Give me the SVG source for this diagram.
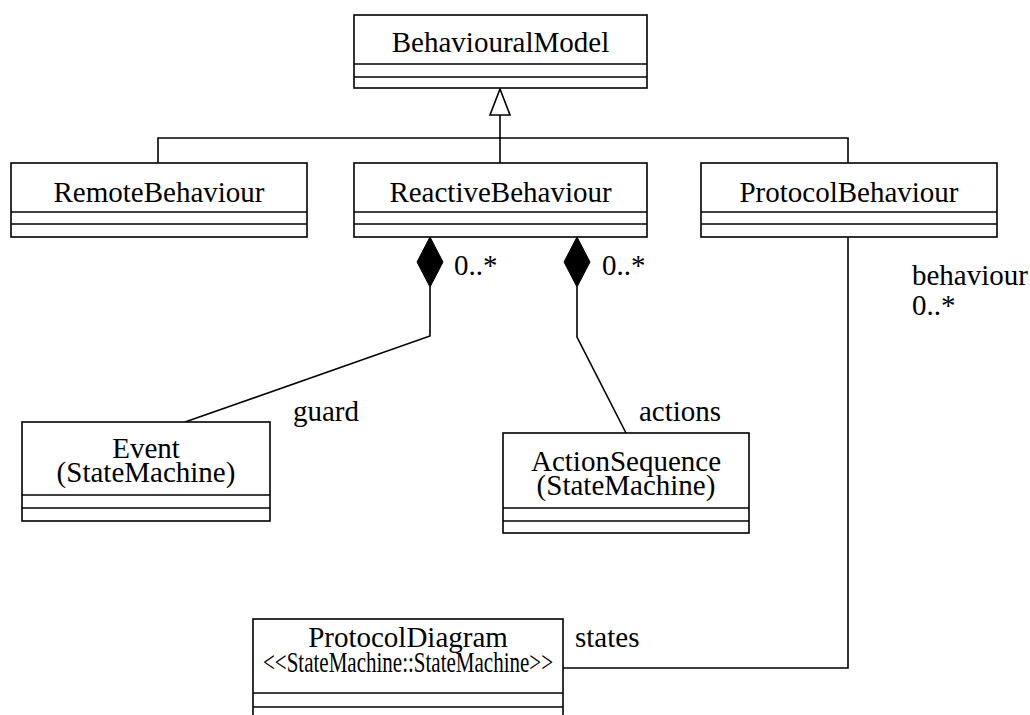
<svg xmlns="http://www.w3.org/2000/svg" width="1030" height="715" viewBox="0 0 1030 715">
<style>
.box{fill:#fff;stroke:#000;stroke-width:1.6}
.sep{stroke:#000;stroke-width:1.6}
.t{font-family:"Liberation Serif","Times New Roman",serif;font-size:29px;fill:#000}
.c{text-anchor:middle}
.ln{fill:none;stroke:#000;stroke-width:1.6}
.dia{fill:#000;stroke:#000;stroke-width:1}
.tri{fill:#fff;stroke:#000;stroke-width:1.6}
</style>
<rect width="1030" height="715" fill="#fff"/>
<g id="connectors">
<polyline class="ln" points="158,163 158,138 848,138 848,163"/>
<line class="ln" x1="500" y1="115" x2="500" y2="163"/>
<polygon class="tri" points="500,89 510,115 490,115"/>
<polyline class="ln" points="430,287 430,336 185,422"/>
<polygon class="dia" points="430,237 443,262 430,287 417,262"/>
<polyline class="ln" points="577,287 577,337 626,433"/>
<polygon class="dia" points="577,237 590,262 577,287 564,262"/>
<polyline class="ln" points="848,237 848,668 563,668"/>
<text class="t" x="454" y="275">0..*</text>
<text class="t" x="602" y="275">0..*</text>
<text class="t" x="293" y="421">guard</text>
<text class="t" x="639" y="421">actions</text>
<text class="t" x="912" y="285">behaviour</text>
<text class="t" x="912" y="315">0..*</text>
<text class="t" x="575" y="647">states</text>
</g>
<g id="BehaviouralModel">
<rect class="box" x="354" y="15" width="293" height="73"/>
<line class="sep" x1="354" y1="64" x2="647" y2="64"/>
<line class="sep" x1="354" y1="77" x2="647" y2="77"/>
<text class="t c" x="500.5" y="52">BehaviouralModel</text>
</g>
<g id="RemoteBehaviour">
<rect class="box" x="11" y="163" width="296" height="74"/>
<line class="sep" x1="11" y1="212" x2="307" y2="212"/>
<line class="sep" x1="11" y1="224" x2="307" y2="224"/>
<text class="t c" x="159" y="202">RemoteBehaviour</text>
</g>
<g id="ReactiveBehaviour">
<rect class="box" x="354" y="163" width="293" height="74"/>
<line class="sep" x1="354" y1="212" x2="647" y2="212"/>
<line class="sep" x1="354" y1="224" x2="647" y2="224"/>
<text class="t c" x="500.5" y="202">ReactiveBehaviour</text>
</g>
<g id="ProtocolBehaviour">
<rect class="box" x="701" y="163" width="296" height="74"/>
<line class="sep" x1="701" y1="212" x2="997" y2="212"/>
<line class="sep" x1="701" y1="224" x2="997" y2="224"/>
<text class="t c" x="849" y="202">ProtocolBehaviour</text>
</g>
<g id="Event">
<rect class="box" x="22" y="422" width="248" height="99"/>
<line class="sep" x1="22" y1="495" x2="270" y2="495"/>
<line class="sep" x1="22" y1="508" x2="270" y2="508"/>
<text class="t c" x="146" y="458">Event</text>
<text class="t c" x="146" y="482">(StateMachine)</text>
</g>
<g id="ActionSequence">
<rect class="box" x="503" y="433" width="246" height="100"/>
<line class="sep" x1="503" y1="508" x2="749" y2="508"/>
<line class="sep" x1="503" y1="521" x2="749" y2="521"/>
<text class="t c" x="626" y="471">ActionSequence</text>
<text class="t c" x="626" y="495">(StateMachine)</text>
</g>
<g id="ProtocolDiagram">
<rect class="box" x="253" y="619" width="310" height="110"/>
<line class="sep" x1="253" y1="693" x2="563" y2="693"/>
<line class="sep" x1="253" y1="707" x2="563" y2="707"/>
<text class="t c" x="408" y="647">ProtocolDiagram</text>
<text class="t c" x="408" y="672" textLength="290" lengthAdjust="spacingAndGlyphs">&lt;&lt;StateMachine::StateMachine&gt;&gt;</text>
</g>
</svg>
